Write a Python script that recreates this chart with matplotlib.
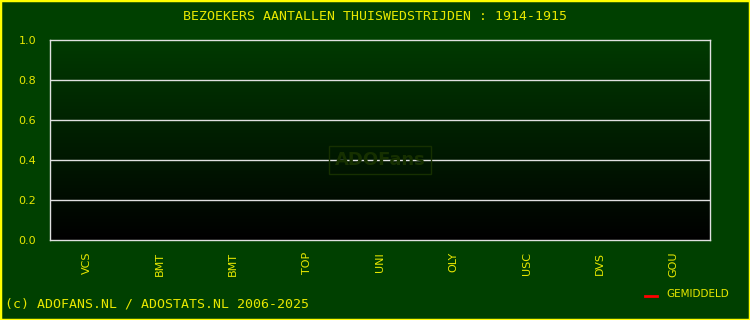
import numpy as np
import matplotlib
matplotlib.use("Agg")
import matplotlib.pyplot as plt
from matplotlib.patches import Rectangle

# data
opponents = ["VCS", "BMT", "BMT", "TOP", "UNI", "OLY", "USC", "DVS", "GOU"]
attendance = [np.nan, np.nan, np.nan, np.nan, np.nan, np.nan, np.nan, np.nan, np.nan]
y_ticks = [0.0, 0.2, 0.4, 0.6, 0.8, 1.0]

BG = "#004000"
YELLOW = "#e8e800"

fig = plt.figure(figsize=(7.5, 3.2), dpi=100, facecolor=BG)
W, H = 750, 320
ax = fig.add_axes([50 / W, 1 - 240 / H, 660 / W, 200 / H])

# background gradient: dark green at top, black at bottom
grad = np.linspace(0, 1, 256).reshape(-1, 1)
cmap = matplotlib.colors.LinearSegmentedColormap.from_list("g", ["#000000", "#003a00"])
ax.imshow(grad, aspect="auto", cmap=cmap, origin="lower",
          extent=[-0.5, len(opponents) - 0.5, 0, 1], zorder=0)

x = np.arange(len(opponents))
ax.bar(x, attendance, color="#ffd700", zorder=2)

ax.set_xlim(-0.5, len(opponents) - 0.5)
ax.set_ylim(0, 1)
ax.set_yticks(y_ticks)
ax.set_yticklabels([f"{v:.1f}" for v in y_ticks], color=YELLOW, fontsize=8)
ax.set_xticks(x)
ax.set_xticklabels(opponents, rotation=90, color=YELLOW, fontsize=8, va="top")
ax.tick_params(length=0, pad=10)
ax.tick_params(axis="x", pad=8.5)
for v in y_ticks[1:-1]:
    ax.axhline(v, color="#e0e0e0", lw=1, zorder=1)
for s in ax.spines.values():
    s.set_color("#e0e0e0")
    s.set_linewidth(1)

# watermark
ax.text(0.5, 0.4, "ADOFans", transform=ax.transAxes, ha="center", va="center",
        fontsize=13, fontweight="bold", color="#163000", zorder=1,
        bbox=dict(boxstyle="square,pad=0.3", fc="none", ec="#163000", lw=1))

fig.text(0.5, 1 - 17 / H, "BEZOEKERS AANTALLEN THUISWEDSTRIJDEN : 1914-1915",
         ha="center", va="center", color=YELLOW, fontsize=9.5, family="DejaVu Sans Mono")
fig.text(5 / W, 1 - 304 / H, "(c) ADOFANS.NL / ADOSTATS.NL 2006-2025",
         ha="left", va="center", color=YELLOW, fontsize=9.5, family="DejaVu Sans Mono")

# legend
fig.lines.append(plt.Line2D([645 / W, 657 / W], [1 - 296 / H] * 2, color="red", lw=2,
                            transform=fig.transFigure))
fig.text(666 / W, 1 - 294 / H, "GEMIDDELD", ha="left", va="center",
         color=YELLOW, fontsize=7.5)

# yellow border
fig.patches.append(Rectangle((0, 0), 1, 1, transform=fig.transFigure, fill=False,
                             ec="#ffff00", lw=2.5))

fig.savefig("out.png", dpi=100, facecolor=BG)
